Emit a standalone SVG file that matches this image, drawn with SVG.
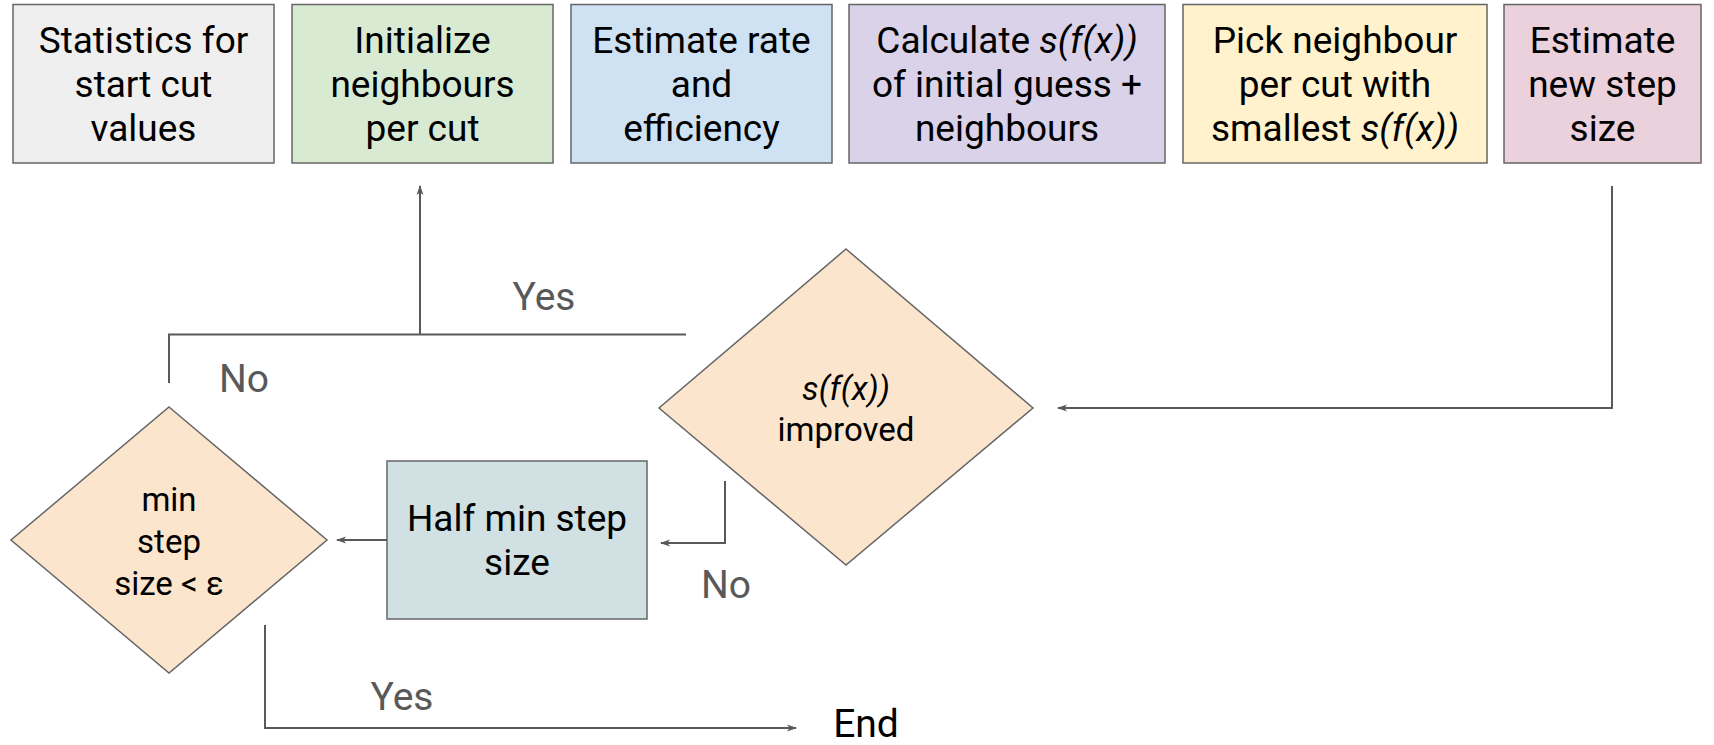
<svg xmlns="http://www.w3.org/2000/svg" width="1714" height="745" viewBox="0 0 1714 745">
  <style>
    .box { stroke: #666666; stroke-width: 1.5; }
    .t { font-family: Roboto, "Liberation Sans", sans-serif; font-size: 37px; fill: #000000; text-anchor: middle; }
    .dt { font-family: Roboto, "Liberation Sans", sans-serif; font-size: 33px; fill: #000000; text-anchor: middle; }
    .lbl { font-family: Roboto, "Liberation Sans", sans-serif; font-size: 39px; fill: #595959; text-anchor: middle; }
    .conn { fill: none; stroke: #595959; stroke-width: 2; }
    .it { font-style: italic; }
  </style>
  <defs>
    <marker id="arrow" viewBox="0 0 10 10" refX="9" refY="5" markerWidth="10" markerHeight="10" markerUnits="userSpaceOnUse" orient="auto">
      <path d="M0,1.5 L10,5 L0,8.5 L2.5,5 Z" fill="#595959"/>
    </marker>
  </defs>

  <!-- process steps, top row -->
  <g id="stats">
    <rect class="box" x="13" y="4.5" width="261" height="158.5" fill="#efefef"/>
    <text class="t" x="143.5" y="53">Statistics for</text>
    <text class="t" x="143.5" y="97">start cut</text>
    <text class="t" x="143.5" y="141">values</text>
  </g>
  <g id="init">
    <rect class="box" x="292" y="4.5" width="261" height="158.5" fill="#d9ead3"/>
    <text class="t" x="422.5" y="53">Initialize</text>
    <text class="t" x="422.5" y="97">neighbours</text>
    <text class="t" x="422.5" y="141">per cut</text>
  </g>
  <g id="rate">
    <rect class="box" x="571" y="4.5" width="261" height="158.5" fill="#cfe2f3"/>
    <text class="t" x="701.5" y="53">Estimate rate</text>
    <text class="t" x="701.5" y="97">and</text>
    <text class="t" x="701.5" y="141">efficiency</text>
  </g>
  <g id="calc">
    <rect class="box" x="849" y="4.5" width="316" height="158.5" fill="#d9d2e9"/>
    <text class="t" x="1007" y="53">Calculate <tspan class="it">s(f(x))</tspan></text>
    <text class="t" x="1007" y="97">of initial guess +</text>
    <text class="t" x="1007" y="141">neighbours</text>
  </g>
  <g id="pick">
    <rect class="box" x="1183" y="4.5" width="304" height="158.5" fill="#fff2cc"/>
    <text class="t" x="1335" y="53">Pick neighbour</text>
    <text class="t" x="1335" y="97">per cut with</text>
    <text class="t" x="1335" y="141">smallest <tspan class="it">s(f(x))</tspan></text>
  </g>
  <g id="step">
    <rect class="box" x="1504" y="4.5" width="197" height="158.5" fill="#ead1dc"/>
    <text class="t" x="1602.5" y="53">Estimate</text>
    <text class="t" x="1602.5" y="97">new step</text>
    <text class="t" x="1602.5" y="141">size</text>
  </g>

  <!-- decisions and lower steps -->
  <g id="improved">
    <polygon class="box" points="846,249 1033,408 846,565 659,408" fill="#fce5cd"/>
    <text class="dt" x="846" y="400"><tspan class="it">s(f(x))</tspan></text>
    <text class="dt" x="846" y="441">improved</text>
  </g>
  <g id="half">
    <rect class="box" x="387" y="461" width="260" height="158" fill="#d0e0e3"/>
    <text class="t" x="517" y="531">Half min step</text>
    <text class="t" x="517" y="575">size</text>
  </g>
  <g id="minstep">
    <polygon class="box" points="169,407 327,540 169,673 11,540" fill="#fce5cd"/>
    <text class="dt" x="169" y="511">min</text>
    <text class="dt" x="169" y="553">step</text>
    <text class="dt" x="169" y="595">size &lt; ε</text>
  </g>
  <g id="end">
    <text x="866" y="737" font-family="Roboto, 'Liberation Sans', sans-serif" font-size="39" fill="#000000" text-anchor="middle">End</text>
  </g>

  <!-- connectors -->
  <g id="connectors">
    <polyline class="conn" points="1612,186 1612,408 1058,408" marker-end="url(#arrow)"/>
    <polyline class="conn" points="686,334.5 169,334.5 169,383"/>
    <line class="conn" x1="420" y1="334.5" x2="420" y2="186" marker-end="url(#arrow)"/>
    <polyline class="conn" points="725,481 725,543 661,543" marker-end="url(#arrow)"/>
    <line class="conn" x1="387" y1="540" x2="337" y2="540" marker-end="url(#arrow)"/>
    <polyline class="conn" points="265,625 265,728 796,728" marker-end="url(#arrow)"/>
    <text class="lbl" x="544" y="310">Yes</text>
    <text class="lbl" x="244" y="392">No</text>
    <text class="lbl" x="726" y="598">No</text>
    <text class="lbl" x="402" y="710">Yes</text>
  </g>
</svg>
